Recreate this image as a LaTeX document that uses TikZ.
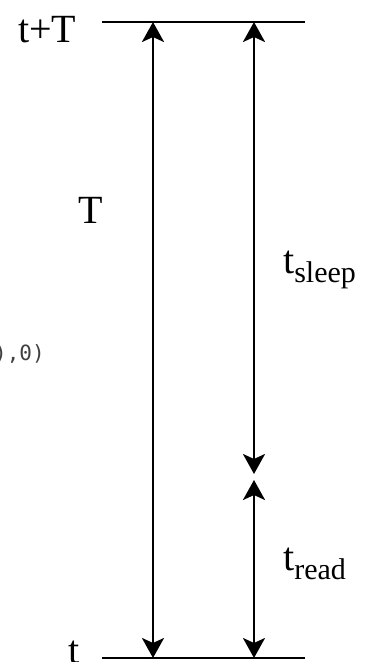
\documentclass[tikz,border=0pt]{standalone}
\usepackage{fontspec}
\setmainfont{Liberation Serif}
\newfontfamily\codefont{DejaVu Sans Mono}
\usetikzlibrary{arrows.meta}
\tikzset{
  bar/.style={line width=2.8pt},
  arr/.style={line width=2.6pt,{Stealth[length=20pt,width=22pt,inset=5pt]}-{Stealth[length=20pt,width=22pt,inset=5pt]}},
  lbl/.style={anchor=base west,inner sep=0pt,font=\fontsize{40}{44}\selectfont},
  code/.style={anchor=base west,inner sep=0pt,text=black!75,font=\codefont\fontsize{21}{23}\selectfont}
}
\newcommand{\subtxt}[1]{\raisebox{-9pt}{\fontsize{30}{32}\selectfont #1}}
\begin{document}
\begin{tikzpicture}[x=1pt,y=-1pt]
\useasboundingbox (0,0) rectangle (373,662);
% horizontal bars
\coordinate (TL) at (102,22);
\coordinate (TR) at (305,22);
\coordinate (BL) at (102,658);
\coordinate (BR) at (305,658);
\draw[bar] (TL) -- (TR);
\draw[bar] (BL) -- (BR);
% arrow ends
\coordinate (A1t) at (153,22);
\coordinate (A1b) at (153,658);
\coordinate (A2t) at (254,22);
\coordinate (A2m) at (254,474);
\coordinate (A2n) at (254,480);
\coordinate (A2b) at (254,658);
\draw[arr] (A1t) -- (A1b);
\draw[arr] (A2t) -- (A2m);
\draw[arr] (A2n) -- (A2b);
% labels
\node[lbl] (ltT) at (18,42) {t+T};
\node[lbl] (lT) at (78,223) {T};
\node[lbl] (lsleep) at (283,273) {t\subtxt{sleep}};
\node[lbl] (lread) at (283,570) {t\subtxt{read}};
\node[lbl] (lt) at (68,663) {t};
\node[code] (lcode) at (-6,360) {),0)};
\end{tikzpicture}
\end{document}
